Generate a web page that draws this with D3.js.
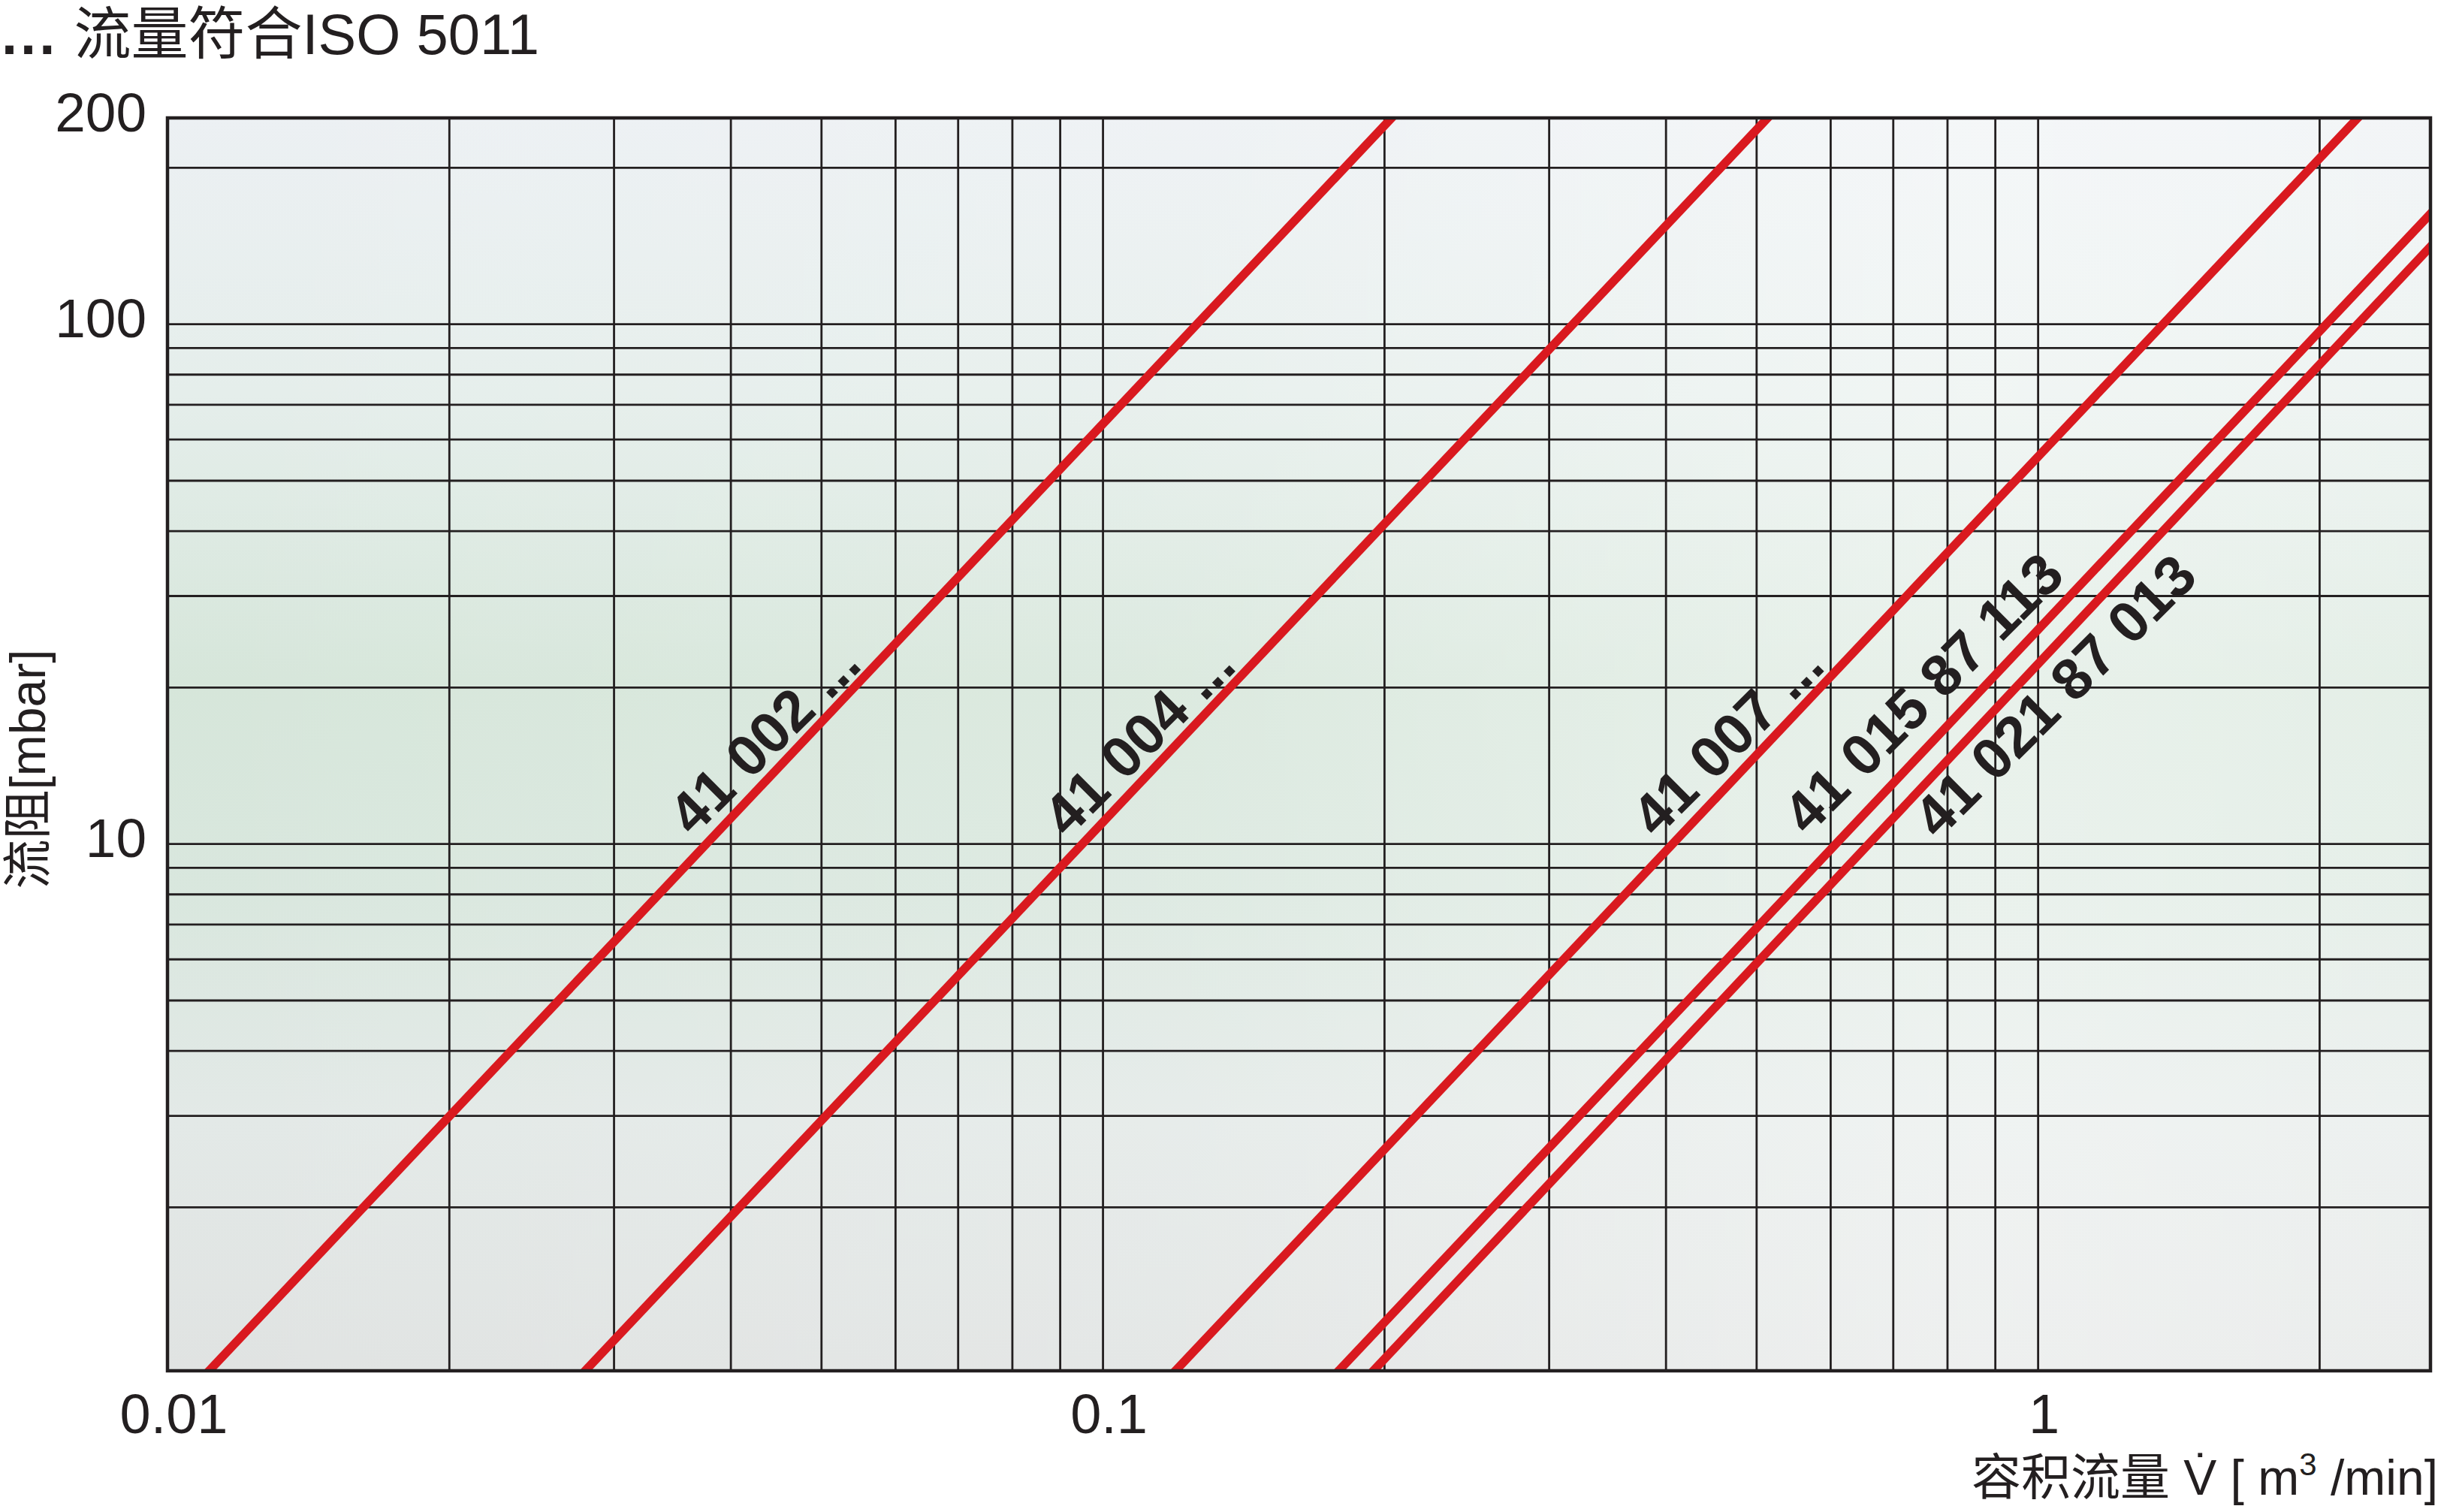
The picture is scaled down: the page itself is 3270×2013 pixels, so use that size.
<!DOCTYPE html>
<html><head><meta charset="utf-8">
<script src="https://cdn.jsdelivr.net/npm/d3@7"></script>
<style>
html,body{margin:0;padding:0;background:#fff;}
svg{display:block;}
</style></head>
<body>
<script>
// ---------- data ----------
const seriesNames = ["41 002 ...", "41 004 ...", "41 007 ...", "41 015 87 113", "41 021 87 013"];
const pressureRead = [1, 200];                                   // mbar at which flows were read
const flowAtLow  = [0.01127, 0.02845, 0.1217, 0.1819, 0.1981];   // m3/min at 1 mbar
const flowAtHigh = [0.1816, 0.4584, 1.960, 2.930, 3.160];        // m3/min at 200 mbar
const xGrid = [0.02,0.03,0.04,0.05,0.06,0.07,0.08,0.09,0.1,0.2,0.3,0.4,0.5,0.6,0.7,0.8,0.9,1,2];
const yGrid = [2,3,4,5,6,7,8,9,10,20,30,40,50,60,70,80,90,100,200];
const xTickValues = [0.01, 0.1, 1];
const xTickLabels = ["0.01", "0.1", "1"];
const yTickValues = [10, 100, 200];
const yTickLabels = ["10", "100", "200"];
const titleDots = "...";
const titleText = " 流量符合ISO 5011";
const yTitle = "流阻[mbar]";
const xTitleCJK = "容积流量 ";
const xTitleLatin = "V\u0307 [ m";
const xTitleSup = "3";
const xTitleEnd = " /min]";

// ---------- layout ----------
const W = 3270, H = 2013;
const L = 223, R = 3236, T = 157, B = 1825;
const ink = "#231f20", red = "#d9191f";
const latin = "'Liberation Sans', Arial, sans-serif";
const cjk = "'Liberation Sans', 'Noto Sans CJK SC', sans-serif";

const x = d3.scaleLog().domain([0.01, 2.63]).range([L, R]);
const y = d3.scaleLog().domain([0.968, 249]).range([B, T]);

const svg = d3.select("body").append("svg").attr("width", W).attr("height", H);
const defs = svg.append("defs");
const g1 = defs.append("linearGradient").attr("id","bgv").attr("x1",0).attr("y1",0).attr("x2",0).attr("y2",1);
[[0,"#ecf0f3"],[0.22,"#e5eeeb"],[0.45,"#d6e6da"],[0.62,"#d9e7de"],[0.8,"#e3e9e7"],[1,"#e0e3e2"]]
  .forEach(s=>g1.append("stop").attr("offset",s[0]).attr("stop-color",s[1]));
const g2 = defs.append("linearGradient").attr("id","bgh").attr("x1",0).attr("y1",0).attr("x2",1).attr("y2",0);
[[0,"#ffffff",0],[0.45,"#ffffff",0.15],[0.8,"#ffffff",0.45],[1,"#ffffff",0.35]]
  .forEach(s=>g2.append("stop").attr("offset",s[0]).attr("stop-color",s[1]).attr("stop-opacity",s[2]));
defs.append("clipPath").attr("id","plotclip").append("rect")
  .attr("x",L).attr("y",T).attr("width",R-L).attr("height",B-T);

svg.append("rect").attr("x",L).attr("y",T).attr("width",R-L).attr("height",B-T).attr("fill","url(#bgv)");
svg.append("rect").attr("x",L).attr("y",T).attr("width",R-L).attr("height",B-T).attr("fill","url(#bgh)");

// grid via axes
const gx = svg.append("g").attr("transform",`translate(0,${B})`)
  .call(d3.axisBottom(x).tickValues(xGrid).tickSize(-(B-T)).tickFormat(""));
const gy = svg.append("g").attr("transform",`translate(${L},0)`)
  .call(d3.axisLeft(y).tickValues(yGrid).tickSize(-(R-L)).tickFormat(""));
[gx,gy].forEach(g=>{
  g.select(".domain").remove();
  g.selectAll("line").attr("stroke",ink).attr("stroke-width",2.8);
});

// red lines
const plot = svg.append("g").attr("clip-path","url(#plotclip)");
const lineGen = d3.line();
seriesNames.forEach((name,i)=>{
  const x1 = x(flowAtLow[i]), y1 = y(pressureRead[0]);
  const x2 = x(flowAtHigh[i]), y2 = y(pressureRead[1]);
  const ext = t => [x1 + t*(x2-x1), y1 + t*(y2-y1)];
  plot.append("path").attr("d", lineGen([ext(-0.3), ext(1.5)]))
    .attr("stroke", red).attr("stroke-width", 11.5).attr("fill","none");
});

// border
svg.append("rect").attr("x",L).attr("y",T).attr("width",R-L).attr("height",B-T)
  .attr("fill","none").attr("stroke",ink).attr("stroke-width",4.5);

// line labels (placed relative to the point of each line at 10 mbar)
const labelOffset = [[-18,-8],[-20,-6],[-22,-6],[-38,-9],[92,-4]];
seriesNames.forEach((name,i)=>{
  const x1 = x(flowAtLow[i]), y1 = y(pressureRead[0]);
  const x2 = x(flowAtHigh[i]), y2 = y(pressureRead[1]);
  const t = (y(10)-y1)/(y2-y1);
  const ax = x1 + t*(x2-x1), ay = y(10);
  svg.append("text")
    .attr("transform",`translate(${ax+labelOffset[i][0]},${ay+labelOffset[i][1]}) rotate(-45)`)
    .attr("font-family",latin).attr("font-weight","bold").attr("font-size",77)
    .attr("fill",ink).text(name);
});

// tick labels
const xl = svg.append("g").attr("transform",`translate(0,${B})`)
  .call(d3.axisBottom(x).tickValues(xTickValues).tickSize(0).tickPadding(0)
    .tickFormat((d,i)=>xTickLabels[i]));
xl.select(".domain").remove();
xl.selectAll("text").attr("font-family",latin).attr("font-size",74).attr("fill",ink)
  .attr("dy",null).attr("y",83).attr("dx",8);

const yTop = y.domain()[1];
yTickValues.forEach((v,i)=>{
  const yy = v === 200 ? y(yTop) : y(v);
  svg.append("text").attr("x",195).attr("y",yy+18).attr("text-anchor","end")
    .attr("font-family",latin).attr("font-size",73).attr("fill",ink).text(yTickLabels[i]);
});

// titles
const tt = svg.append("text").attr("x",2).attr("y",72).attr("font-family",cjk).attr("font-size",76)
  .attr("fill",ink);
tt.append("tspan").attr("font-weight","bold").attr("letter-spacing",4).text(titleDots);
tt.append("tspan").text(titleText);

svg.append("text").attr("transform","translate(60,1024) rotate(-90)").attr("text-anchor","middle")
  .attr("font-family",cjk).attr("font-size",66).attr("fill",ink).text(yTitle);

const xt = svg.append("text").attr("x",3246).attr("y",1990).attr("text-anchor","end")
  .attr("font-family",cjk).attr("font-size",66).attr("fill",ink);
xt.append("tspan").text(xTitleCJK);
xt.append("tspan").text(xTitleLatin);
xt.append("tspan").attr("font-size",42).attr("dy",-26).text(xTitleSup);
xt.append("tspan").attr("dy",26).text(xTitleEnd);
</script>
</body></html>
